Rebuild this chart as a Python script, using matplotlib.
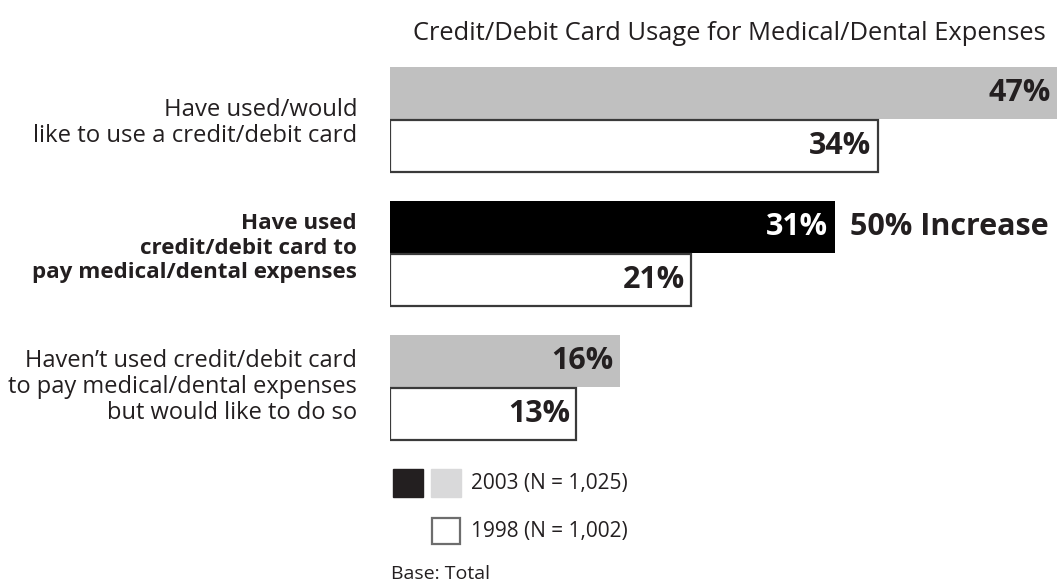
import matplotlib.pyplot as plt
from matplotlib.patches import Rectangle

plt.rcParams['font.family'] = ['Open Sans', 'DejaVu Sans']

# survey results, percent
categories = [
    "Have used/would\nlike to use a credit/debit card",
    "Have used\ncredit/debit card to\npay medical/dental expenses",
    "Haven\u2019t used credit/debit card\nto pay medical/dental expenses\nbut would like to do so",
]
vals_2003 = [47, 31, 16]
vals_1998 = [34, 21, 13]
colors_2003 = ["#c0c0c0", "#000000", "#c0c0c0"]
bold_cat = [False, True, False]
cat_size = [17.2, 16.1, 17.0]
cat_spacing = [1.09, 1.23, 1.1]
cat_shift = [0.026, -0.041, -0.004]
note = "50% Increase"

W, H = 1057, 587
fig = plt.figure(figsize=(W / 100, H / 100), dpi=100)

# bar panel
ax = fig.add_axes([390 / W, 1 - 454.5 / H, (W - 390) / W, 402 / H])
ax.set_xlim(0, 46.5)
ax.set_ylim(2.5, -0.5)
ax.axis("off")

bh = 0.388
off = 0.198
for i, (a, b) in enumerate(zip(vals_2003, vals_1998)):
    ax.barh(i - off, a, height=bh, color=colors_2003[i], edgecolor="none", clip_on=True)
    ax.barh(i + off, b, height=bh, color="white", edgecolor="#3a3a3a", linewidth=1.6)
    ax.text(min(a, 46.5) - 0.45, i - off, f"{a}%", ha="right", va="center",
            fontsize=22, fontweight="bold", color="white" if colors_2003[i] == "#000000" else "#231f20")
    ax.text(b - 0.45, i + off, f"{b}%", ha="right", va="center",
            fontsize=22, fontweight="bold", color="#231f20")
    ax.text(-2.3, i + cat_shift[i], categories[i], ha="right", va="center", fontsize=cat_size[i],
            fontweight="bold" if bold_cat[i] else "normal", color="#231f20",
            linespacing=cat_spacing[i], clip_on=False)

ax.text(vals_2003[1] + 1.05, 1 - off, note, ha="left", va="center",
        fontsize=22, fontweight="bold", color="#231f20")

fig.text(413 / W, 1 - 33 / H, "Credit/Debit Card Usage for Medical/Dental Expenses",
         ha="left", va="center", fontsize=18.35, color="#231f20")

# legend, drawn in pixel space
lg = fig.add_axes([0, 0, 1, 1])
lg.set_xlim(0, W)
lg.set_ylim(H, 0)
lg.axis("off")
lg.add_patch(Rectangle((393, 469), 30, 28, color="#231f20"))
lg.add_patch(Rectangle((431, 469), 30, 28, color="#d9d9da"))
lg.add_patch(Rectangle((432, 518), 28, 26, facecolor="white", edgecolor="#6d6d6d", linewidth=1.6))
lg.text(471, 483, "2003 (N = 1,025)", ha="left", va="center", fontsize=15, color="#231f20")
lg.text(471, 531, "1998 (N = 1,002)", ha="left", va="center", fontsize=15, color="#231f20")
lg.text(391, 574, "Base: Total", ha="left", va="center", fontsize=14, color="#231f20")

fig.savefig("out.png", dpi=100)
